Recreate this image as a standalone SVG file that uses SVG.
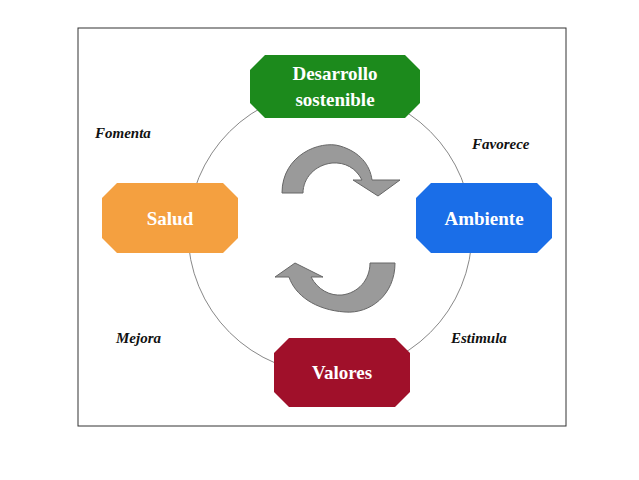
<svg xmlns="http://www.w3.org/2000/svg" width="639" height="480" viewBox="0 0 639 480">
<style>
.n{font-family:"Liberation Serif",serif;font-weight:bold;font-size:19px;fill:#fff;text-anchor:middle}
.l{font-family:"Liberation Serif",serif;font-weight:bold;font-style:italic;font-size:15px;fill:#111}
.a{fill:#9a9a9a;stroke:#666;stroke-width:1}
</style>
<rect width="639" height="480" fill="#fff"/>
<rect x="78" y="28" width="488" height="398" fill="none" stroke="#333" stroke-width="1"/>
<g id="connectors">
<circle cx="330" cy="232" r="142" fill="none" stroke="#888" stroke-width="1"/>
<path class="a" d="M282,193 C282,155 320,140 340,146 C360,152 370,165 372,180 L400,180 L378,196 L353,180 L362,180 C356,168 345,162 332,163 C315,165 303,178 303,193 Z"/>
<path class="a" d="M395,263 C395,295 370,314 345,312 C315,310 295,295 289,277 L275,277 L295,263 L323,277 L311,277 C318,290 330,296 342,295 C358,293 370,280 370,263 Z"/>
</g>
<g id="desarrollo"><path d="M265,55 H405 L420,70 V103 L405,118 H265 L250,103 V70 Z" fill="#1c8a1c"/>
<text class="n" x="335" y="80">Desarrollo</text><text class="n" x="335" y="106">sostenible</text></g>
<g id="salud"><path d="M117,183 H223 L238,198 V238 L223,253 H117 L102,238 V198 Z" fill="#f4a040"/>
<text class="n" x="170" y="225">Salud</text></g>
<g id="ambiente"><path d="M431,183 H537 L552,198 V238 L537,253 H431 L416,238 V198 Z" fill="#1a6ee8"/>
<text class="n" x="484" y="225">Ambiente</text></g>
<g id="valores"><path d="M289,338 H395 L410,353 V392 L395,407 H289 L274,392 V353 Z" fill="#a0102a"/>
<text class="n" x="342" y="379">Valores</text></g>
<text class="l" x="95" y="138">Fomenta</text>
<text class="l" x="472" y="149">Favorece</text>
<text class="l" x="116" y="343">Mejora</text>
<text class="l" x="451" y="343">Estimula</text>
</svg>
